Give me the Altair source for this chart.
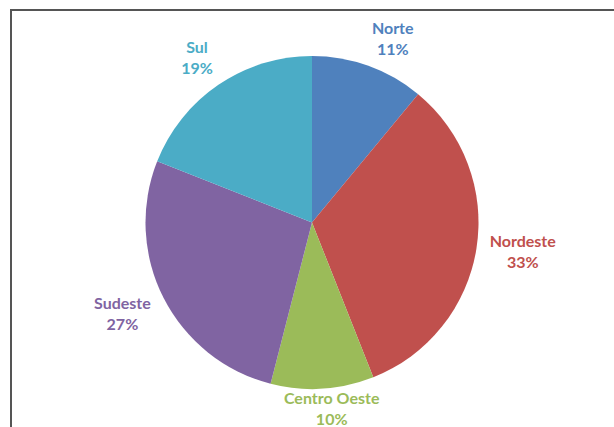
import altair as alt
import numpy as np
import pandas as pd

regions = ["Norte", "Nordeste", "Centro Oeste", "Sudeste", "Sul"]
shares = [11, 33, 10, 27, 19]
colors = ["#4F81BD", "#C0504D", "#9BBB59", "#8064A2", "#4BACC6"]

R = 166.5
PAD_L, PAD_T = 10, 9
W, H = 604, 418
CY = 213.5  # pie centre, from the top of the chart area
LH = 21

df = pd.DataFrame({"region": regions, "share": shares, "order": list(range(len(regions)))})
df["label"] = df["region"] + "\n" + df["share"].astype(str) + "%"

# outside-end label box placement (Excel-like), derived from each slice's mid-angle
total = sum(shares)
cum = np.cumsum(shares) - np.array(shares) / 2
ang = cum / total * 2 * np.pi
hw = df["region"].str.len() * 4.3 + 4
hh = 20
kx, ky = 2.5, 1.9
ox = (R + 8) * np.sin(ang) + hw * np.clip(np.sin(ang) * kx, -1, 1)
oy = -(R + 4) * np.cos(ang) - hh * np.clip(np.cos(ang) * ky, -1, 1) - LH / 2 - 3
df["lr"] = np.sqrt(ox ** 2 + oy ** 2)
df["lt"] = (np.arctan2(ox, -oy) % (2 * np.pi)) / (2 * np.pi) * total

color = alt.Color("region:N", scale=alt.Scale(domain=regions, range=colors), legend=None)
tscale = alt.Scale(domain=[0, total], range=[0, 2 * np.pi])

pie = alt.Chart(df).mark_arc(outerRadius=R).encode(
    theta=alt.Theta("share:Q", stack=True, scale=tscale),
    order=alt.Order("order:Q"),
    color=color,
    y=alt.value(CY),
)

labels = alt.Chart(df).mark_text(
    font="Lato", fontSize=16, fontWeight="bold",
    lineBreak="\n", lineHeight=LH, align="center", baseline="middle",
).encode(
    theta=alt.Theta("lt:Q", stack=None, scale=tscale),
    radius=alt.Radius("lr:Q", scale=None),
    text="label:N",
    color=color,
    y=alt.value(CY),
)

# chart-area border (only left and top edges are visible in the cropped reference)
frame_left = alt.Chart(df).mark_rule(stroke="#555555", strokeWidth=2).encode(
    x=alt.value(1), y=alt.value(0), y2=alt.value(H + 20)
)
frame_top = alt.Chart(df).mark_rule(stroke="#555555", strokeWidth=2).encode(
    x=alt.value(0), x2=alt.value(W + 20), y=alt.value(1)
)

chart = (frame_left + frame_top + pie + labels).properties(
    width=W, height=H,
    padding={"left": PAD_L, "top": PAD_T, "right": 0, "bottom": 0},
    autosize=alt.AutoSizeParams(type="none"),
).configure_view(stroke=None).configure(background="white")

chart.save("out.html", embed_options={"renderer": "svg", "actions": False})
